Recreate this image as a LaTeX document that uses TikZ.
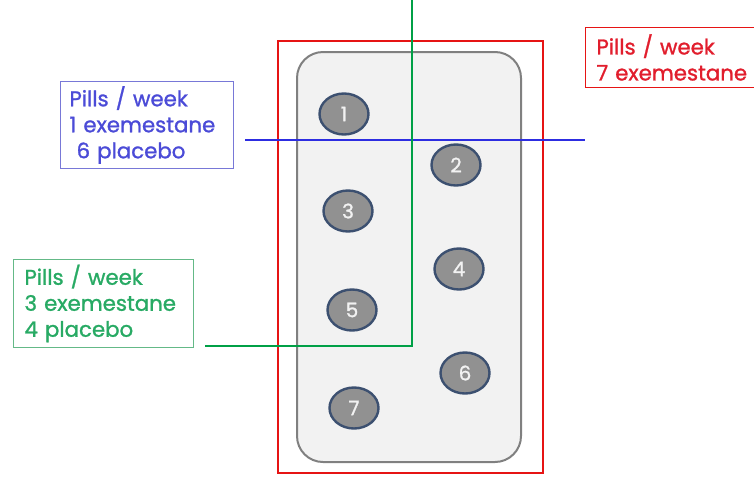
\documentclass[tikz,border=0pt]{standalone}
\usepackage{fontspec}
\setmainfont{Poppins}
\newfontfamily\boxfont{Poppins}[FakeBold=1.2]
\usetikzlibrary{shapes.geometric}

\definecolor{lineblue}{RGB}{45,45,225}
\definecolor{textblue}{RGB}{75,75,215}
\definecolor{boxblue}{RGB}{120,120,215}
\definecolor{linegreen}{RGB}{0,160,70}
\definecolor{textgreen}{RGB}{40,170,100}
\definecolor{boxgreen}{RGB}{100,185,135}
\definecolor{linered}{RGB}{230,20,20}
\definecolor{textred}{RGB}{225,30,45}
\definecolor{pillfill}{RGB}{145,145,145}
\definecolor{pilledge}{RGB}{60,80,112}

\tikzset{
  infobox/.style={draw, line width=1pt, align=left, anchor=north west, inner sep=0pt,
    font=\boxfont\fontsize{21.3}{26}\selectfont},
  pill/.style={ellipse, draw=pilledge, fill=pillfill, line width=2.4pt, minimum width=49pt,
    minimum height=41pt, text=black!5, font=\boxfont\fontsize{20}{20}\selectfont},
}

\begin{document}
\begin{tikzpicture}[x=1pt, y=-1pt]
\useasboundingbox (0,0) rectangle (754,477);
% blister and outer frame
\draw[linered, line width=2pt] (278,41) rectangle (543,473);
\draw[draw=gray, fill=black!5, line width=2pt, rounded corners=26pt] (297,52) rectangle (521,462);
% pills
\foreach \n/\x/\y in {1/344/114, 2/456/165, 3/348/211, 4/459/269, 5/352/310, 6/465/373, 7/354/408}
  \node[pill] (p\n) at (\x,\y) {\n};
% info boxes
\node[infobox, draw=boxblue, text=textblue, minimum width=173pt, minimum height=87pt,
  text width=173pt] (blue) at (60,81) {\hspace{9pt}Pills / week\\\hspace{9pt}1 exemestane\\\hspace{9pt}\ 6 placebo};
\node[infobox, draw=boxgreen, text=textgreen, minimum width=180pt, minimum height=88pt,
  text width=180pt] (green) at (13,259) {\hspace{11pt}Pills / week\\\hspace{11pt}3 exemestane\\\hspace{11pt}4 placebo};
\node[infobox, draw=linered, text=textred, minimum width=170pt, minimum height=60pt,
  text width=170pt] (red) at (585,27) {\hspace{11pt}Pills / week\\\hspace{11pt}7 exemestane};
% dividing lines
\coordinate (bluestart) at (245,140);
\coordinate (blueend) at (585,140);
\coordinate (greentop) at (412,0);
\coordinate (greencorner) at (412,346);
\coordinate (greenend) at (205,346);
\draw[lineblue, line width=2pt] (bluestart) -- (blueend);
\draw[linegreen, line width=2pt] (greentop) -- (greencorner) -- (greenend);
\end{tikzpicture}
\end{document}
